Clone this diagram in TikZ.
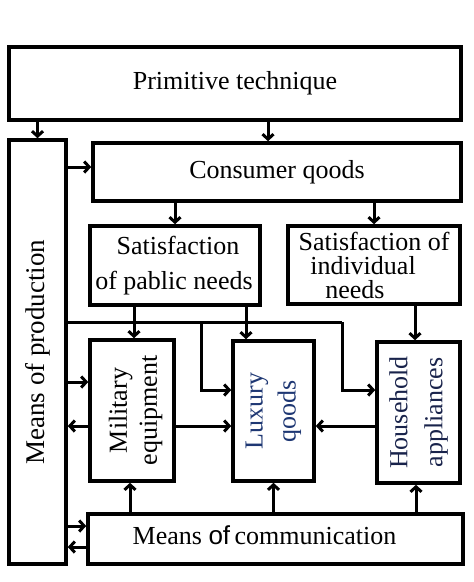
\documentclass[tikz,border=0pt]{standalone}
\usepackage{fontspec}
\setmainfont{Liberation Serif}
\newfontfamily\ofsans{Liberation Sans}
\usetikzlibrary{arrows.meta,calc}
\definecolor{luxc}{RGB}{30,55,115}
\definecolor{hhc}{RGB}{25,35,75}
\begin{document}
\begin{tikzpicture}[x=1pt,y=-1pt,
  box/.style={draw=black, line width=3.6pt, inner sep=0pt, align=center,
    font=\fontsize{26}{35}\selectfont},
  txt/.style={inner sep=0pt, align=center, font=\fontsize{26}{33}\selectfont},
  arr/.style={line width=3pt, -{Straight Barb[length=5pt,width=11pt]}},
  ln/.style={line width=3pt}]
\useasboundingbox (0,0) rectangle (474,582);
% boxes
\node[box, minimum width=452pt, minimum height=73pt] (prim) at (235,83.5) {Primitive technique};
\node[box, minimum width=57pt, minimum height=424pt] (mop) at (37.5,352) {};
\node[txt, rotate=90, font=\fontsize{27}{33}\selectfont] (mopt) at (mop) {Means of production};
\node[box, minimum width=368pt, minimum height=58pt] (cons) at (277,172) {Consumer qoods};
\node[box, minimum width=170pt, minimum height=79pt] (pub) at (175,265.5) {\hbox to 6pt{}Satisfaction\\of pablic needs\hbox to 2pt{}};
\node[box, minimum width=172pt, minimum height=78pt, font=\fontsize{26}{24}\selectfont] (ind) at (374,265) {Satisfaction of\\individual\hbox to 22pt{}\\needs\hbox to 38pt{}};
\node[box, minimum width=84pt, minimum height=141pt] (mil) at (132,410.5) {};
\node[txt, rotate=90, font=\fontsize{26}{30}\selectfont] (milt) at ($(mil)+(3.5,0)$) {Military\\equipment};
\node[box, minimum width=81pt, minimum height=140pt] (lux) at (273.5,411) {};
\node[txt, rotate=90, text=luxc] (luxt) at (lux) {Luxury\\qoods};
\node[box, minimum width=83pt, minimum height=141pt] (hh) at (418.5,412.5) {};
\node[txt, rotate=90, text=hhc, font=\fontsize{26}{35}\selectfont] (hht) at (hh) {Household\\appliances};
\node[box, minimum width=375pt, minimum height=50pt] (moc) at (275.5,539) {};
\node[txt] (moct) at ($(moc)+(-11,-4)$) {Means {\ofsans of}\,communication};
% connectors
\draw[arr] (mop.north |- prim.south) -- (mop.north);
\coordinate (p2) at ($(prim.south)+(33,0)$);
\draw[arr] (p2) -- (p2 |- cons.north);
\coordinate (k) at ($(cons.west)+(0,-5)$);
\draw[arr] (mop.east |- k) -- (k);
\draw[arr] (cons.south -| pub.north) -- (pub.north);
\draw[arr] (cons.south -| ind.north) -- (ind.north);
\coordinate (p7) at ($(pub.south)+(-41,0)$);
\draw[arr] (p7) -- (p7 |- mil.north);
\coordinate (p8) at ($(pub.south)+(71,0)$);
\draw[arr] (p8) -- (p8 |- lux.north);
\coordinate (p9) at ($(ind.south)+(41,0)$);
\draw[arr] (p9) -- (p9 |- hh.north);
\coordinate (j1) at (201,322);
\coordinate (j2) at (342,322);
\draw[ln] (mop.east |- j1) -- (j2);
\draw[arr] (j1) |- ($(lux.west)+(0,-21)$);
\draw[arr] (j2) |- ($(hh.west)+(0,-22.5)$);
\coordinate (m1) at ($(mil.west)+(0,-28.5)$);
\draw[arr] (mop.east |- m1) -- (m1);
\coordinate (m2) at ($(mil.west)+(0,15.5)$);
\draw[arr] (m2) -- (mop.east |- m2);
\draw[arr] (mil.east |- m2) -- (lux.west |- m2);
\draw[arr] (hh.west |- m2) -- (lux.east |- m2);
\coordinate (b1) at ($(mil.south)+(-2,0)$);
\draw[arr] (b1 |- moc.north) -- (b1);
\draw[arr] (moc.north -| lux.south) -- (lux.south);
\coordinate (b3) at ($(hh.south)+(-2.5,0)$);
\draw[arr] (b3 |- moc.north) -- (b3);
\coordinate (c1) at ($(moc.west)+(0,-13)$);
\draw[arr] (mop.east |- c1) -- (c1);
\coordinate (c2) at ($(moc.west)+(0,8)$);
\draw[arr] (c2) -- (mop.east |- c2);
\end{tikzpicture}
\end{document}
